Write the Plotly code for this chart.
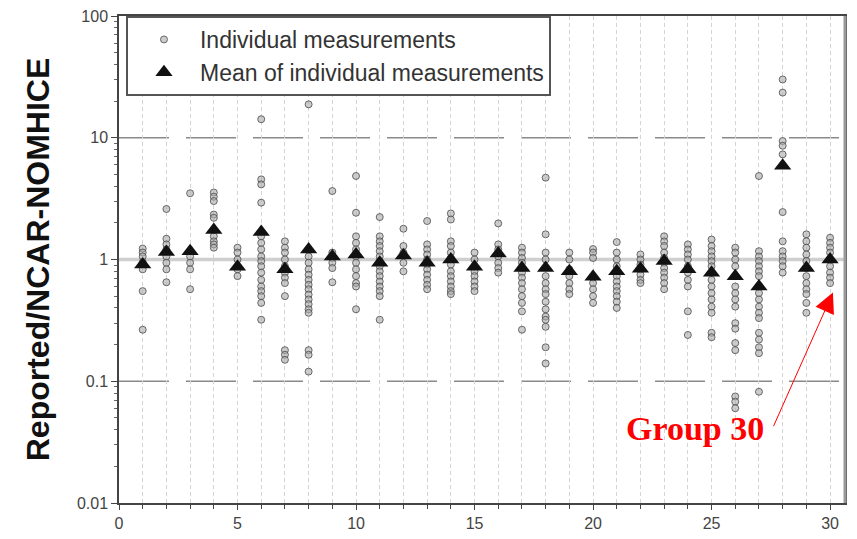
import plotly.graph_objects as go

# Group numbers on the x axis
groups = list(range(1, 31))

# Reported / NCAR-NOMHICE ratio of each individual measurement, one list per group
grp01 = [1.23, 1.14, 1.06, 0.95, 0.83, 0.55, 0.265]
grp02 = [2.6, 1.48, 1.33, 1.21, 1.06, 0.94, 0.83, 0.65]
grp03 = [3.5, 1.17, 1.06, 0.94, 0.83, 0.57]
grp04 = [3.55, 3.28, 3.02, 2.34, 2.2, 1.55, 1.41, 1.33, 1.25]
grp05 = [1.25, 1.14, 1.0, 0.83, 0.73]
grp06 = [14.2, 4.55, 4.14, 2.93, 1.55, 1.37, 1.21, 1.06, 0.97, 0.88, 0.78, 0.68,
         0.60, 0.55, 0.50, 0.44, 0.32]
grp07 = [1.41, 1.25, 1.14, 1.0, 0.88, 0.78, 0.71, 0.64, 0.50, 0.18, 0.165, 0.15]
grp08 = [18.8, 1.21, 1.06, 0.94, 0.83, 0.75, 0.68, 0.62, 0.57, 0.515, 0.47, 0.43,
         0.39, 0.365, 0.18, 0.165, 0.12]
grp09 = [3.65, 1.14, 1.03, 0.94, 0.85, 0.65]
grp10 = [4.85, 2.42, 1.55, 1.37, 1.21, 1.06, 0.94, 0.83, 0.73, 0.64, 0.60, 0.39]
grp11 = [2.23, 1.55, 1.41, 1.29, 1.17, 1.06, 0.97, 0.88, 0.80, 0.73, 0.66, 0.60,
         0.55, 0.50, 0.32]
grp12 = [1.79, 1.29, 1.14, 0.94, 0.80]
grp13 = [2.07, 1.33, 1.21, 1.10, 1.0, 0.91, 0.83, 0.75, 0.68, 0.62, 0.57]
grp14 = [2.39, 2.13, 1.41, 1.29, 1.14, 1.03, 0.91, 0.80, 0.73, 0.66, 0.60, 0.55, 0.52]
grp15 = [1.14, 1.0, 0.88, 0.80, 0.73, 0.66, 0.60, 0.55]
grp16 = [1.98, 1.33, 1.21, 1.06, 0.94, 0.85, 0.78]
grp17 = [1.25, 1.14, 1.03, 0.94, 0.85, 0.78, 0.71, 0.64, 0.57, 0.50, 0.44, 0.375, 0.265]
grp18 = [4.7, 1.61, 1.14, 1.0, 0.73, 0.64, 0.57, 0.52, 0.45, 0.39, 0.34, 0.32, 0.28,
         0.19, 0.14]
grp19 = [1.14, 1.0, 0.83, 0.73, 0.64, 0.57, 0.52]
grp20 = [1.22, 1.14, 1.03, 0.71, 0.64, 0.57, 0.50, 0.44]
grp21 = [1.39, 1.14, 1.0, 0.88, 0.80, 0.73, 0.66, 0.60, 0.55, 0.50, 0.45, 0.40]
grp22 = [1.10, 1.0, 0.91, 0.83, 0.75, 0.68, 0.64]
grp23 = [1.55, 1.41, 1.29, 1.14, 1.03, 0.94, 0.85, 0.78, 0.71, 0.64, 0.57]
grp24 = [1.33, 1.21, 1.10, 1.0, 0.88, 0.78, 0.68, 0.60, 0.375, 0.24]
grp25 = [1.46, 1.29, 1.17, 1.06, 0.97, 0.88, 0.78, 0.68, 0.60, 0.53, 0.47, 0.41,
         0.365, 0.25, 0.23]
grp26 = [1.25, 1.14, 1.0, 0.88, 0.73, 0.60, 0.53, 0.47, 0.41, 0.30, 0.27, 0.206,
         0.18, 0.075, 0.068, 0.06]
grp27 = [4.85, 1.17, 1.06, 0.97, 0.88, 0.80, 0.73, 0.60, 0.53, 0.47, 0.41, 0.365,
         0.33, 0.25, 0.22, 0.19, 0.17, 0.082]
grp28 = [30.1, 23.5, 9.4, 8.6, 7.3, 2.45, 1.41, 1.17, 1.06, 0.97, 0.88, 0.78]
grp29 = [1.61, 1.41, 1.25, 1.10, 0.97, 0.85, 0.73, 0.64, 0.57, 0.52, 0.44, 0.365]
grp30 = [1.51, 1.37, 1.25, 1.14, 1.0, 0.88, 0.78, 0.71, 0.64]

# Mean ratio of each group
mean_ratio = [0.91, 1.15, 1.17, 1.75, 0.87, 1.68, 0.83, 1.21, 1.06, 1.10,
              0.94, 1.08, 0.94, 1.00, 0.87, 1.12, 0.85, 0.85, 0.80, 0.72,
              0.80, 0.84, 0.97, 0.83, 0.78, 0.73, 0.60, 5.9, 0.85, 1.00]

individual = [grp01, grp02, grp03, grp04, grp05, grp06, grp07, grp08, grp09, grp10,
              grp11, grp12, grp13, grp14, grp15, grp16, grp17, grp18, grp19, grp20,
              grp21, grp22, grp23, grp24, grp25, grp26, grp27, grp28, grp29, grp30]

ind_x, ind_y = [], []
for g, vals in zip(groups, individual):
    ind_x.extend([g] * len(vals))
    ind_y.extend(vals)

SANS = "Liberation Sans, Arial, sans-serif"

fig = go.Figure()

fig.add_trace(go.Scatter(
    x=ind_x, y=ind_y, mode="markers", name="Individual measurements",
    marker=dict(symbol="circle", size=7, color="rgba(170,170,170,0.6)",
                line=dict(color="rgba(75,75,75,0.8)", width=1)),
))
fig.add_trace(go.Scatter(
    x=groups, y=mean_ratio, mode="markers", name="Mean of individual measurements",
    marker=dict(symbol="triangle-up", size=15, color="#111111",
                line=dict(width=0)),
))

# Horizontal reference lines at each decade
shapes = []
for yv in (10, 0.1):
    shapes.append(dict(type="line", xref="paper", x0=0, x1=1, yref="y", y0=yv, y1=yv,
                       line=dict(color="#8a8a8a", width=1.5, dash="50px,17px"),
                       layer="below"))
shapes.append(dict(type="line", xref="paper", x0=0, x1=1, yref="y", y0=1, y1=1,
                   line=dict(color="#cfcfcf", width=3.5), layer="below"))
# right-hand frame
shapes.append(dict(type="line", xref="paper", x0=1, x1=1, yref="paper", y0=0, y1=1,
                   line=dict(color="#9a9a9a", width=3)))

fig.update_layout(
    width=857, height=539,
    margin=dict(l=119, r=12, t=16, b=36),
    paper_bgcolor="white", plot_bgcolor="white",
    showlegend=True,
    legend=dict(
        x=0.0096, y=1, xanchor="left", yanchor="top",
        bgcolor="white", bordercolor="#555555", borderwidth=2,
        font=dict(family=SANS, size=23, color="#333333"),
        itemsizing="trace", itemwidth=62, tracegroupgap=0,
    ),
    shapes=shapes,
    xaxis=dict(
        range=[0, 30.63], dtick=5, tick0=0, automargin=False,
        showline=True, linecolor="#444444", linewidth=1.5, mirror=True,
        ticks="outside", ticklen=5, tickcolor="#444444",
        tickfont=dict(family=SANS, size=16, color="#444444"),
        showgrid=True, gridcolor="#d4d4d4", griddash="4px,3px", gridwidth=1,
        minor=dict(dtick=1, ticks="outside", ticklen=4, tickcolor="#444444",
                   showgrid=True, gridcolor="#d4d4d4", griddash="4px,3px"),
        zeroline=False,
    ),
    yaxis=dict(
        type="log", range=[-2, 2], dtick=1, automargin=False,
        showline=True, linecolor="#444444", linewidth=1.5, mirror=True,
        ticks="outside", ticklen=6, tickcolor="#444444",
        tickfont=dict(family=SANS, size=16, color="#444444"),
        showgrid=False, zeroline=False,
        minor=dict(ticks="outside", ticklen=3, tickcolor="#666666", showgrid=False),
        title=dict(text="<b>Reported/NCAR-NOMHICE</b>", standoff=18,
                   font=dict(family=SANS, size=32, color="#111111")),
    ),
    annotations=[
        dict(x=24.3, y=-1.39, xref="x", yref="y", text="<b>Group 30</b>",
             showarrow=False,
             font=dict(family="Liberation Serif, Times New Roman, serif", size=34,
                       color="#ff0000")),
        dict(x=30.12, y=-0.272, xref="x", yref="y", text="", showarrow=True,
             ax=-60, ay=135, arrowhead=2, arrowsize=4, arrowwidth=1,
             arrowcolor="#ff0000"),
    ],
)

fig.write_html("out.html")
